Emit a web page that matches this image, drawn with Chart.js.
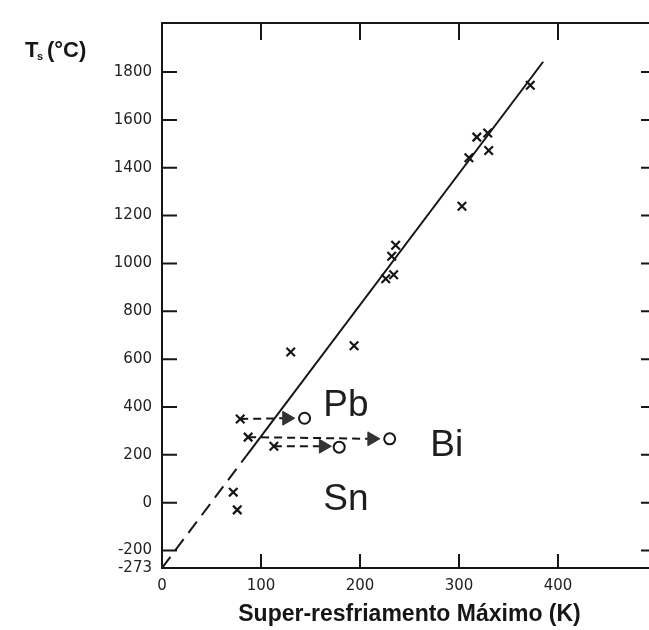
<!DOCTYPE html>
<html>
<head>
<meta charset="utf-8">
<script src="https://cdn.jsdelivr.net/npm/chart.js@4"></script>
<style>
  html, body { margin: 0; padding: 0; background: #fff; }
  #wrap { width: 649px; height: 630px; overflow: hidden; }
</style>
</head>
<body>
<div id="wrap"><canvas id="chart" width="680" height="630"></canvas></div>
<script>
// measured points (max undercooling K, solidus temperature °C)
const crossK = [372, 318, 329, 310, 330, 303, 236, 232, 234, 226, 130, 194, 79, 87, 113, 72, 76];
const crossT = [1745, 1528, 1545, 1442, 1472, 1239, 1076, 1030, 953, 936, 630, 656, 350, 274, 236, 44, -30];

// fitted line: dashed part near absolute zero, solid part above
const dashK = [0, 85];
const dashT = [-273, 195];
const solidK = [85, 385];
const solidT = [195, 1843];

// Pb, Bi, Sn shifts: start cross -> arrow -> open circle
const metals = ['Pb', 'Bi', 'Sn'];
const startK = [79, 87, 113];
const startT = [350, 274, 236];
const arrowK = [126, 212, 163];
const arrowT = [353, 267, 236];
const circleK = [144, 230, 179];
const circleT = [353, 267, 232];

// label anchors (baseline, left)
const labelK = [163, 271, 163];
const labelT = [364, 197, -32];

const yTicks = [-273, -200, 0, 200, 400, 600, 800, 1000, 1200, 1400, 1600, 1800];
const xTicks = [100, 200, 300, 400];

const ink = '#161616';
const pts = (xs, ys) => xs.map((x, i) => ({ x: x, y: ys[i] }));

const shiftLines = metals.map((m, i) => ({
    label: m,
    data: [{ x: startK[i], y: startT[i] }, { x: arrowK[i], y: arrowT[i] }],
    showLine: true,
    borderColor: ink,
    borderWidth: 2,
    borderDash: [8, 5],
    pointRadius: 0
}));

const framePlugin = {
    id: 'frame',
    afterDraw(chart) {
        const { ctx, chartArea: a, scales } = chart;
        const x = scales.x, y = scales.y;
        ctx.save();
        ctx.strokeStyle = ink;
        ctx.lineWidth = 2;
        ctx.beginPath();
        ctx.moveTo(a.left, a.top);
        ctx.lineTo(a.right, a.top);
        ctx.lineTo(a.right, a.bottom);
        // inward ticks
        yTicks.filter(v => v > -273).forEach(v => {
            const py = y.getPixelForValue(v);
            ctx.moveTo(a.left, py); ctx.lineTo(a.left + 15, py);
            ctx.moveTo(a.right, py); ctx.lineTo(a.right - 16, py);
        });
        xTicks.forEach(v => {
            const px = x.getPixelForValue(v);
            ctx.moveTo(px, a.top); ctx.lineTo(px, a.top + 17);
            ctx.moveTo(px, a.bottom); ctx.lineTo(px, a.bottom - 14);
        });
        ctx.stroke();

        // element labels
        ctx.fillStyle = '#1e1e1e';
        ctx.font = '37px "Liberation Sans", Arial, sans-serif';
        ctx.textBaseline = 'alphabetic';
        ctx.textAlign = 'left';
        metals.forEach((m, i) => {
            ctx.fillText(m, x.getPixelForValue(labelK[i]), y.getPixelForValue(labelT[i]));
        });

        // y axis title: T_s (°C)
        ctx.fillStyle = ink;
        ctx.font = 'bold 22px "Liberation Sans", Arial, sans-serif';
        ctx.fillText('T', 25, 57);
        ctx.font = 'bold 11px "Liberation Sans", Arial, sans-serif';
        ctx.fillText('s', 37, 60);
        ctx.font = 'bold 22px "Liberation Sans", Arial, sans-serif';
        ctx.fillText('(°C)', 47, 57);
        ctx.restore();
    }
};

new Chart(document.getElementById('chart'), {
    type: 'scatter',
    data: {
        datasets: [
            {
                label: 'arrows',
                data: pts(arrowK, arrowT),
                pointStyle: 'triangle',
                rotation: 90,
                pointRadius: 8,
                backgroundColor: '#333',
                borderColor: '#333',
                borderWidth: 1
            },
            {
                label: 'circles',
                data: pts(circleK, circleT),
                pointStyle: 'circle',
                pointRadius: 5.5,
                backgroundColor: '#fff',
                borderColor: ink,
                borderWidth: 2
            },
            {
                label: 'measured',
                data: pts(crossK, crossT),
                pointStyle: 'crossRot',
                pointRadius: 6,
                borderColor: ink,
                borderWidth: 2.2
            },
            ...shiftLines,
            {
                label: 'fit dashed',
                data: pts(dashK, dashT),
                showLine: true,
                borderColor: ink,
                borderWidth: 2,
                borderDash: [14, 8],
                pointRadius: 0
            },
            {
                label: 'fit',
                data: pts(solidK, solidT),
                showLine: true,
                borderColor: ink,
                borderWidth: 2,
                pointRadius: 0
            }
        ]
    },
    options: {
        responsive: false,
        animation: false,
        events: [],
        layout: { padding: { top: 23, right: 23, left: 0, bottom: 0 } },
        plugins: {
            legend: { display: false },
            tooltip: { enabled: false }
        },
        scales: {
            x: {
                type: 'linear',
                min: 0,
                max: 500,
                afterFit: s => { s.height = 62; },
                grid: { drawOnChartArea: false, drawTicks: false },
                border: { color: ink, width: 2 },
                ticks: {
                    stepSize: 100,
                    padding: 9,
                    color: '#222',
                    font: { family: '"DejaVu Sans", sans-serif', size: 15 },
                    callback: v => (v === 500 ? '' : String(v))
                },
                title: {
                    display: true,
                    text: 'Super-resfriamento Máximo (K)',
                    color: ink,
                    padding: { top: 0, bottom: 2 },
                    font: { family: '"Liberation Sans", Arial, sans-serif', size: 23, weight: 'bold' }
                }
            },
            y: {
                type: 'linear',
                min: -273,
                max: 2005,
                afterFit: s => { s.width = 162; },
                afterBuildTicks: s => { s.ticks = yTicks.map(v => ({ value: v })); },
                grid: { drawOnChartArea: false, drawTicks: false },
                border: { color: ink, width: 2 },
                ticks: {
                    padding: 10,
                    color: '#222',
                    font: { family: '"DejaVu Sans", sans-serif', size: 15 },
                    callback: v => String(v)
                }
            }
        }
    },
    plugins: [framePlugin]
});
</script>
</body>
</html>
